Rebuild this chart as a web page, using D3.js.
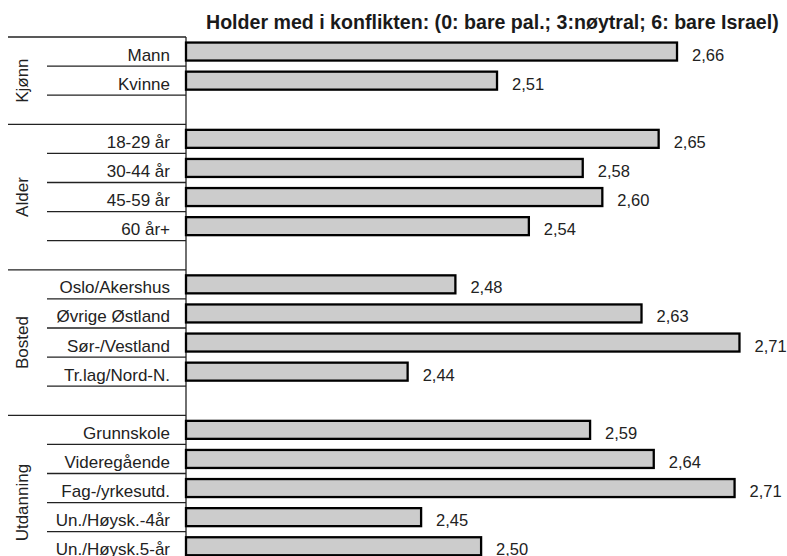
<!DOCTYPE html>
<html>
<head>
<meta charset="utf-8">
<script src="https://cdn.jsdelivr.net/npm/d3@7"></script>
<style>
    body { margin: 0; background: #fff; }
    svg { display: block; font-family: "Liberation Sans", Arial, sans-serif; }
</style>
</head>
<body>
<div id="chart"></div>
<script>

// chart data
let title = "Holder med i konflikten: (0: bare pal.; 3:nøytral; 6: bare Israel)";
let groups = ["Kjønn", "Alder", "Bosted", "Utdanning"];

let kjonnCats = ["Mann", "Kvinne"];
let kjonnVals = [2.661, 2.514];

let alderCats = ["18-29 år", "30-44 år", "45-59 år", "60 år+"];
let alderVals = [2.646, 2.584, 2.600, 2.540];

let bostedCats = ["Oslo/Akershus", "Øvrige Østland", "Sør-/Vestland", "Tr.lag/Nord-N."];
let bostedVals = [2.480, 2.632, 2.712, 2.441];

let utdCats = ["Grunnskole", "Videregående", "Fag-/yrkesutd.", "Un./Høysk.-4år", "Un./Høysk.5-år"];
let utdVals = [2.590, 2.642, 2.708, 2.452, 2.501];

let groupCats = [kjonnCats, alderCats, bostedCats, utdCats];
let groupVals = [kjonnVals, alderVals, bostedVals, utdVals];

// build rows: categories of each group followed by one empty row
let rows = [];
let groupInfo = [];
groups.forEach((g, gi) => {
    let first = rows.length;
    groupCats[gi].forEach((c, ci) => {
        rows.push({id: g + "_" + ci, group: g, cat: c, value: groupVals[gi][ci]});
    });
    rows.push({id: g + "_blank", group: g, cat: null, value: null});
    groupInfo.push({name: g, first: rows[first].id, last: rows[rows.length - 1].id});
});

let width = 787, height = 556;
let axisX = 186;
let top0 = 37, step = 29.1;

let svg = d3.select("#chart").append("svg")
    .attr("width", width)
    .attr("height", height);

let x = d3.scaleLinear()
    .domain([2.26, 2.75])
    .range([axisX, 786]);

let y = d3.scaleBand()
    .domain(rows.map(d => d.id))
    .range([top0, top0 + rows.length * step])
    .padding(0);

let fmt = v => d3.format(".2f")(v).replace(".", ",");

// title
svg.append("text")
    .attr("x", 206)
    .attr("y", 29)
    .attr("font-size", 19.6)
    .attr("font-weight", "bold")
    .attr("fill", "#1a1a1a")
    .text(title);

// row lines (below every category row)
let catRows = rows.filter(d => d.cat !== null);

svg.selectAll(".row-line")
    .data(catRows)
    .enter().append("line")
    .attr("class", "row-line")
    .attr("x1", 47)
    .attr("x2", axisX)
    .attr("y1", d => y(d.id) + y.bandwidth())
    .attr("y2", d => y(d.id) + y.bandwidth())
    .attr("stroke", "#222")
    .attr("stroke-width", 1.3);

// group lines
svg.selectAll(".group-line")
    .data(groupInfo)
    .enter().append("line")
    .attr("class", "group-line")
    .attr("x1", 8)
    .attr("x2", axisX)
    .attr("y1", d => y(d.first))
    .attr("y2", d => y(d.first))
    .attr("stroke", "#222")
    .attr("stroke-width", 1.3);

// vertical axis line
svg.append("line")
    .attr("x1", axisX)
    .attr("x2", axisX)
    .attr("y1", top0)
    .attr("y2", height)
    .attr("stroke", "#222")
    .attr("stroke-width", 1.3);

// group labels
svg.selectAll(".group-label")
    .data(groupInfo)
    .enter().append("text")
    .attr("class", "group-label")
    .attr("transform", d => {
        let cy = (y(d.first) + y(d.last) + y.bandwidth()) / 2;
        return "translate(28," + cy + ") rotate(-90)";
    })
    .attr("text-anchor", "middle")
    .attr("font-size", 17)
    .attr("fill", "#222")
    .text(d => d.name);

// category labels
svg.selectAll(".cat-label")
    .data(catRows)
    .enter().append("text")
    .attr("class", "cat-label")
    .attr("x", 170)
    .attr("y", d => y(d.id) + 23.5)
    .attr("text-anchor", "end")
    .attr("font-size", 17)
    .attr("fill", "#222")
    .text(d => d.cat);

// bars
let barH = 18;
svg.selectAll(".bar")
    .data(catRows)
    .enter().append("rect")
    .attr("class", "bar")
    .attr("x", x(2.26))
    .attr("y", d => y(d.id) + (step - barH) / 2)
    .attr("width", d => x(d.value) - x(2.26))
    .attr("height", barH)
    .attr("fill", "#cccccc")
    .attr("stroke", "#000")
    .attr("stroke-width", 2.3);

// value labels
svg.selectAll(".val-label")
    .data(catRows)
    .enter().append("text")
    .attr("class", "val-label")
    .attr("x", d => x(d.value) + 15)
    .attr("y", d => y(d.id) + 23.5)
    .attr("font-size", 16.5)
    .attr("fill", "#222")
    .text(d => fmt(d.value));

</script>
</body>
</html>
